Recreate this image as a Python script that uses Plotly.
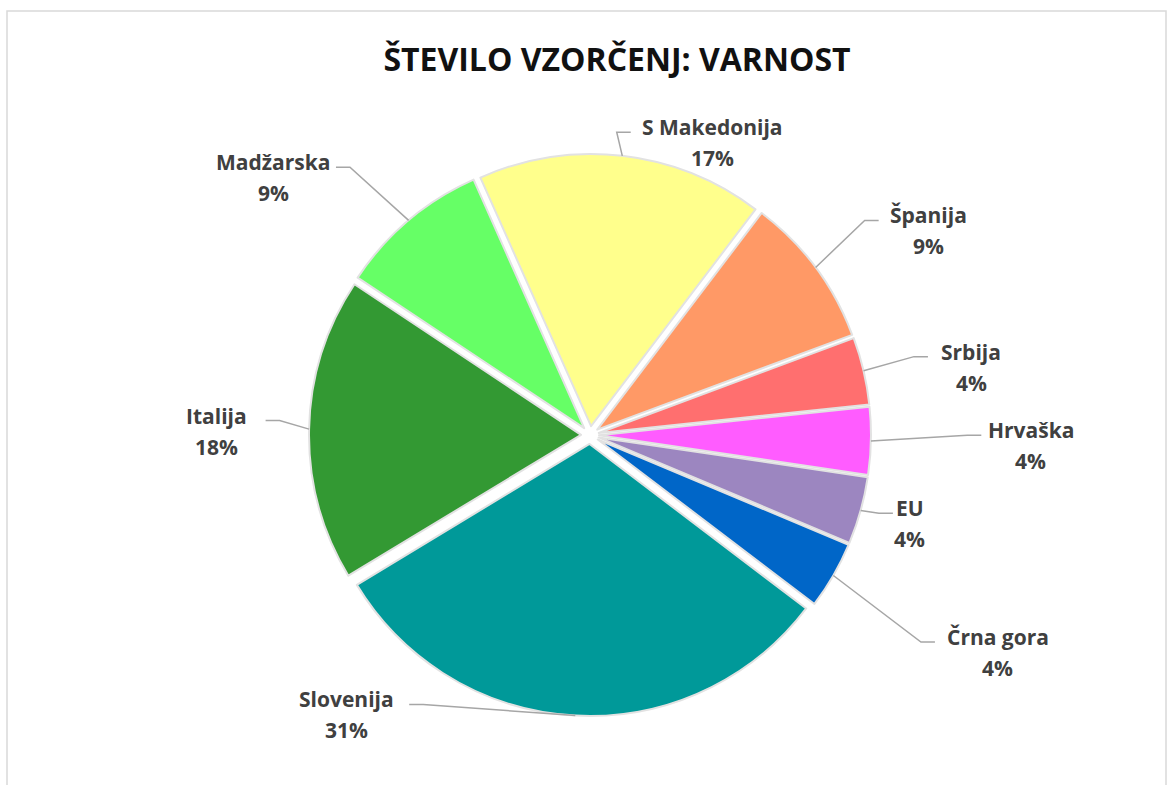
import math
import plotly.graph_objects as go

# Share of samples by country (percent)
countries = ["S Makedonija", "Španija", "Srbija", "Hrvaška", "EU",
             "Črna gora", "Slovenija", "Italija", "Madžarska"]
shares = [17, 9, 4, 4, 4, 4, 31, 18, 9]
colors = ["#FFFF8C", "#FF9966", "#FF6F6F", "#FF5CFF", "#9C86C0",
          "#0066C8", "#009999", "#339933", "#66FF66"]

title_text = "ŠTEVILO VZORČENJ: VARNOST"

W, H = 1167, 785

# pie geometry (pixels)
CX, CY = 590, 435
HALF = 281
PULL = 0.033
ROTATION = -24  # first slice starts 24° left of 12 o'clock, drawn clockwise

# label placement: (angle shift from slice bisector in degrees, distance from centre in px)
label_layout = {
    "S Makedonija": (16.2, 317),
    "Španija": (5.5, 395),
    "Srbija": (3.1, 387),
    "Hrvaška": (0.2, 441),
    "EU": (-0.1, 332),
    "Črna gora": (-1.9, 462),
    "Slovenija": (38.0, 371),
    "Italija": (-0.6, 374),
    "Madžarska": (-10.7, 408),
}

LABEL_FS = 21
LINE_GAP = 31
TEXT_COLOR = "#404040"
LEADER_COLOR = "#A6A6A6"


def px(x):
    return x / W


def py(y):
    return 1 - y / H


def polar(angle_deg, dist):
    a = math.radians(angle_deg)
    return CX + dist * math.sin(a), CY - dist * math.cos(a)


fig = go.Figure()
fig.add_trace(go.Pie(
    labels=countries,
    values=shares,
    sort=False,
    direction="clockwise",
    rotation=ROTATION,
    pull=[PULL] * len(shares),
    marker=dict(colors=colors, line=dict(color="#E2E2E2", width=2)),
    textinfo="none",
    hoverinfo="label+percent",
    showlegend=False,
    domain=dict(x=[px(CX - HALF), px(CX + HALF)], y=[py(CY + HALF), py(CY - HALF)]),
))

total = sum(shares)
annotations = []
shapes = []
start = ROTATION
for name, val in zip(countries, shares):
    span = 360 * val / total
    mid = start + span / 2
    start += span
    pct = f"{round(100 * val / total)}%"

    shift, dist = label_layout[name]
    lx, ly = polar(mid + shift, dist)
    name_y = ly - LINE_GAP / 2
    pct_y = ly + LINE_GAP / 2

    for text, y in ((name, name_y), (pct, pct_y)):
        annotations.append(dict(x=px(lx), y=py(y), xref="paper", yref="paper",
                                text=f"<b>{text}</b>", showarrow=False,
                                xanchor="center", yanchor="middle",
                                font=dict(family="Open Sans", size=LABEL_FS, color=TEXT_COLOR)))

    # leader line: slice edge -> elbow -> label side
    ax, ay = polar(mid, HALF)
    half_w = len(name) * 0.31 * LABEL_FS
    side = 1 if lx > ax else -1
    ex = lx - side * (half_w + 4)
    ey = name_y + 5
    bx = ex - side * 14
    path = f"M {px(ax)},{py(ay)} L {px(bx)},{py(ey)} L {px(ex)},{py(ey)}"
    shapes.append(dict(type="path", path=path, xref="paper", yref="paper",
                       line=dict(color=LEADER_COLOR, width=1.5)))

# chart area frame
shapes.append(dict(type="rect", xref="paper", yref="paper",
                   x0=px(7), y0=py(800), x1=px(1166), y1=py(11),
                   line=dict(color="#D9D9D9", width=1.5), layer="below"))

fig.update_layout(
    width=W, height=H,
    margin=dict(l=0, r=0, t=0, b=0),
    paper_bgcolor="white",
    plot_bgcolor="white",
    title=dict(text=f"<b>{title_text}</b>", x=617 / W, y=py(60),
               xanchor="center", yanchor="middle", xref="paper", yref="paper",
               font=dict(family="Open Sans", size=32, color="#111111")),
    annotations=annotations,
    shapes=shapes,
)

fig.write_html("out.html")
